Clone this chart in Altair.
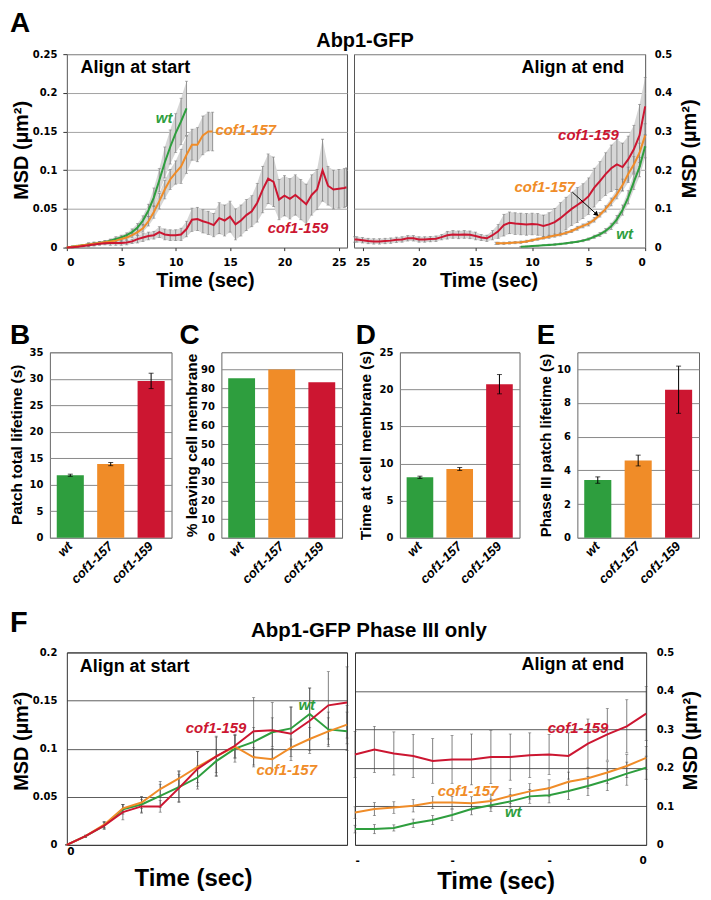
import altair as alt
import pandas as pd

# ---------------- Panel A: Abp1-GFP MSD (um^2), aligned at patch start ----------------
a_start_wt_t = [0, 0.5, 1, 1.5, 2, 2.5, 3, 3.5, 4, 4.5, 5, 5.5, 6, 6.5, 7, 7.5, 8, 8.5, 9, 9.5, 10, 10.5, 11]
a_start_wt_v = [0, 0.001, 0.002, 0.003, 0.004, 0.005, 0.006, 0.007, 0.009, 0.011, 0.013, 0.016, 0.020, 0.026,
                0.035, 0.048, 0.065, 0.087, 0.110, 0.130, 0.148, 0.163, 0.180]
a_start_wt_e = [0, 0.001, 0.001, 0.001, 0.002, 0.002, 0.002, 0.002, 0.002, 0.003, 0.003, 0.003, 0.004, 0.005,
                0.006, 0.008, 0.012, 0.015, 0.020, 0.022, 0.025, 0.030, 0.035]

a_start_157_t = [0, 0.5, 1, 1.5, 2, 2.5, 3, 3.5, 4, 4.5, 5, 5.5, 6, 6.5, 7, 7.5, 8, 8.5, 9, 9.5, 10, 10.5, 11,
                 11.5, 12, 12.5, 13, 13.4]
a_start_157_v = [0, 0.001, 0.002, 0.003, 0.004, 0.005, 0.006, 0.007, 0.008, 0.009, 0.011, 0.013, 0.016, 0.020,
                 0.025, 0.034, 0.046, 0.060, 0.075, 0.088, 0.097, 0.105, 0.120, 0.133, 0.133, 0.145, 0.150, 0.150]
a_start_157_e = [0, 0.001, 0.001, 0.001, 0.002, 0.002, 0.002, 0.002, 0.002, 0.003, 0.003, 0.003, 0.003, 0.004,
                 0.005, 0.006, 0.008, 0.010, 0.012, 0.013, 0.015, 0.022, 0.024, 0.020, 0.022, 0.025, 0.025, 0.025]

a_start_159_t = [0, 0.5, 1, 1.5, 2, 2.5, 3, 3.5, 4, 4.5, 5, 5.5, 6, 6.5, 7, 7.5, 8, 8.5, 9, 9.5, 10, 10.5, 11,
                 11.5, 12, 12.5, 13, 13.5, 14, 14.5, 15, 15.5, 16, 16.5, 17, 17.5, 18, 18.5, 19, 19.5, 20, 20.5,
                 21, 21.5, 22, 22.5, 23, 23.5, 24, 24.5, 25, 25.5, 25.7]
a_start_159_v = [0, 0.0005, 0.001, 0.002, 0.003, 0.004, 0.005, 0.0055, 0.006, 0.006,
                 0.006, 0.0065, 0.008, 0.011, 0.013, 0.015, 0.016, 0.020, 0.017, 0.016,
                 0.016, 0.017, 0.024, 0.036, 0.037, 0.034, 0.032, 0.029, 0.038, 0.035,
                 0.040, 0.030, 0.035, 0.042, 0.047, 0.058, 0.075, 0.089, 0.085, 0.062,
                 0.067, 0.063, 0.068, 0.062, 0.056, 0.068, 0.075, 0.100, 0.080, 0.075,
                 0.076, 0.077, 0.078]
a_start_159_e = [0, 0.001, 0.001, 0.001, 0.002, 0.002, 0.002, 0.002, 0.003, 0.003,
                 0.003, 0.003, 0.003, 0.005, 0.005, 0.005, 0.005, 0.007, 0.007, 0.007,
                 0.007, 0.008, 0.010, 0.015, 0.015, 0.015, 0.015, 0.015, 0.020, 0.020,
                 0.020, 0.020, 0.020, 0.020, 0.020, 0.025, 0.030, 0.032, 0.032, 0.026,
                 0.026, 0.026, 0.026, 0.026, 0.026, 0.026, 0.026, 0.040, 0.025, 0.025,
                 0.025, 0.025, 0.025]

# ---------------- Panel A: aligned at patch end (time before end, s) ----------------
a_end_wt_t = [11, 10.5, 10, 9.5, 9, 8.5, 8, 7.5, 7, 6.5, 6, 5.5, 5, 4.5, 4, 3.5, 3, 2.5, 2, 1.5, 1, 0.5, 0]
a_end_wt_v = [0.002, 0.003, 0.004, 0.005, 0.006, 0.007, 0.008, 0.0095, 0.011, 0.013, 0.015, 0.018, 0.022,
              0.028, 0.034, 0.043, 0.055, 0.073, 0.097, 0.130, 0.170, 0.208, 0.262]
a_end_wt_e = [0.001, 0.001, 0.001, 0.001, 0.001, 0.002, 0.002, 0.002, 0.002, 0.002, 0.002, 0.003, 0.003,
              0.004, 0.005, 0.006, 0.008, 0.010, 0.013, 0.017, 0.020, 0.025, 0.030]

a_end_157_t = [13.2, 13, 12.5, 12, 11.5, 11, 10.5, 10, 9.5, 9, 8.5, 8, 7.5, 7, 6.5, 6, 5.5, 5, 4.5, 4, 3.5,
               3, 2.5, 2, 1.5, 1, 0.5, 0]
a_end_157_v = [0.011, 0.011, 0.011, 0.012, 0.013, 0.014, 0.016, 0.019, 0.022, 0.025, 0.028, 0.031, 0.034,
               0.038, 0.043, 0.050, 0.056, 0.062, 0.072, 0.085, 0.100, 0.118, 0.138, 0.162, 0.190, 0.215,
               0.245, 0.290]
a_end_157_e = [0.003, 0.003, 0.003, 0.003, 0.003, 0.003, 0.003, 0.003, 0.003, 0.003, 0.004, 0.004, 0.004,
               0.004, 0.004, 0.005, 0.005, 0.006, 0.006, 0.006, 0.008, 0.010, 0.012, 0.015, 0.018, 0.020,
               0.025, 0.030]

a_end_159_t = [25.7, 25.5, 25, 24.5, 24, 23.5, 23, 22.5, 22, 21.5, 21, 20.5, 20, 19.5, 19, 18.5, 18, 17.5,
               17, 16.5, 16, 15.5, 15, 14.5, 14, 13.5, 13, 12.5, 12, 11.5, 11, 10.5, 10, 9.5, 9, 8.5, 8,
               7.5, 7, 6.5, 6, 5.5, 5, 4.5, 4, 3.5, 3, 2.5, 2, 1.5, 1, 0.5, 0]
a_end_159_v = [0.021, 0.021, 0.019, 0.017, 0.016, 0.016, 0.017, 0.018, 0.020, 0.021, 0.024, 0.024, 0.021,
               0.021, 0.022, 0.023, 0.027, 0.032, 0.034, 0.033, 0.034, 0.033, 0.030, 0.026, 0.024, 0.032,
               0.042, 0.058, 0.064, 0.062, 0.061, 0.060, 0.061, 0.060, 0.056, 0.060, 0.066, 0.076, 0.088,
               0.100, 0.110, 0.120, 0.133, 0.155, 0.172, 0.190, 0.205, 0.215, 0.208, 0.228, 0.254, 0.290,
               0.365]
a_end_159_e = [0.007, 0.007, 0.007, 0.007, 0.007, 0.007, 0.007, 0.007, 0.007, 0.007, 0.007, 0.007, 0.007,
               0.007, 0.007, 0.007, 0.007, 0.010, 0.010, 0.010, 0.010, 0.010, 0.010, 0.008, 0.008, 0.012,
               0.018, 0.028, 0.028, 0.028, 0.028, 0.028, 0.028, 0.028, 0.028, 0.030, 0.035, 0.040, 0.042,
               0.043, 0.045, 0.045, 0.047, 0.050, 0.050, 0.055, 0.060, 0.065, 0.062, 0.060, 0.062, 0.080,
               0.075]

# ---------------- Panels B-E: bar charts ----------------
strains = ["wt", "cof1-157", "cof1-159"]
b_lifetime = [11.8, 13.9, 29.6]
b_err = [0.2, 0.3, 1.45]
c_leaving = [85.3, 90.0, 83.2]
d_membrane = [8.15, 9.27, 20.7]
d_err = [0.15, 0.2, 1.3]
e_phase3 = [3.42, 4.58, 8.78]
e_err = [0.19, 0.32, 1.4]

# ---------------- Panel F: Phase III only (frame index) ----------------
f_start_i = [0, 1, 2, 3, 4, 5, 6, 7, 8, 9, 10, 11, 12, 13, 14, 15]
f_start_wt_v = [0, 0.009, 0.020, 0.037, 0.042, 0.051, 0.060, 0.070, 0.087, 0.100, 0.107, 0.117, 0.121, 0.136, 0.120, 0.118]
f_start_wt_e = [0, 0.001, 0.003, 0.005, 0.008, 0.012, 0.016, 0.012, 0.012, 0.014, 0.015, 0.015, 0.022, 0.027, 0.018, 0.020]
f_start_157_v = [0, 0.009, 0.021, 0.038, 0.044, 0.058, 0.069, 0.081, 0.092, 0.102, 0.091, 0.089, 0.101, 0.110, 0.118, 0.125]
f_start_157_e = [0, 0.001, 0.003, 0.004, 0.006, 0.008, 0.008, 0.016, 0.020, 0.012, 0.010, 0.011, 0.009, 0.012, 0.014, 0.020]
f_start_159_v = [0, 0.009, 0.020, 0.034, 0.040, 0.040, 0.059, 0.079, 0.092, 0.103, 0.118, 0.119, 0.1155, 0.129, 0.145, 0.148]
f_start_159_e = [0, 0.001, 0.004, 0.008, 0.007, 0.006, 0.014, 0.018, 0.021, 0.012, 0.035, 0.029, 0.028, 0.034, 0.035, 0.037]

f_end_i = [-15, -14, -13, -12, -11, -10, -9, -8, -7, -6, -5, -4, -3, -2, -1, 0]
f_end_159_v = [0.235, 0.248, 0.2375, 0.231, 0.218, 0.222, 0.222, 0.228, 0.228, 0.233, 0.235, 0.231, 0.263, 0.287, 0.308, 0.341]
f_end_159_e = [0.060, 0.060, 0.056, 0.056, 0.058, 0.062, 0.066, 0.069, 0.060, 0.058, 0.052, 0.060, 0.064, 0.067, 0.069, 0.070]
f_end_157_v = [0.084, 0.093, 0.097, 0.1015, 0.110, 0.110, 0.108, 0.114, 0.127, 0.139, 0.147, 0.164, 0.173, 0.188, 0.205, 0.226]
f_end_157_e = [0.015, 0.017, 0.015, 0.016, 0.016, 0.016, 0.017, 0.018, 0.019, 0.020, 0.022, 0.025, 0.027, 0.028, 0.030, 0.030]
f_end_wt_v = [0.041, 0.041, 0.044, 0.056, 0.0645, 0.0775, 0.093, 0.103, 0.113, 0.126, 0.129, 0.140, 0.153, 0.168, 0.185, 0.2005]
f_end_wt_e = [0.010, 0.012, 0.008, 0.011, 0.012, 0.014, 0.015, 0.016, 0.017, 0.018, 0.020, 0.022, 0.025, 0.027, 0.030, 0.030]

# ---------------- series-label annotations (data coordinates) ----------------
lab_a_start = (["wt", "cof1-157", "cof1-159"], [8.94, 16.44, 21.24], [0.161, 0.146, 0.0193])
lab_a_end = (["wt", "cof1-157", "cof1-159"], [1.82, 8.87, 5.02], [0.023, 0.144, 0.277])
arrow_a_end = ([6.43], [0.143], [4.29], [0.086])
lab_f_start = (["wt", "cof1-157", "cof1-159"], [12.84, 11.77, 7.99], [0.140, 0.0725, 0.116])
lab_f_end = (["wt", "cof1-157", "cof1-159"], [-6.85, -9.18, -3.51], [0.072, 0.128, 0.290])

# ---------------- styling ----------------
LF = "Liberation Sans"
TF = "DejaVu Sans"
LINE_COLORS = ["#2e9e3e", "#f08c28", "#cc1631"]
BAR_COLORS = ["#36aa40", "#f28b26", "#d0021f"]
cscale = alt.Scale(domain=strains, range=LINE_COLORS)


def to_long(parts):
    rows = []
    for name, ts, vs, es in parts:
        for t, v, e in zip(ts, vs, es):
            rows.append({"s": name, "t": t, "v": v, "lo": v - e, "hi": v + e})
    return pd.DataFrame(rows)


def note(text, x, y, size, align="left"):
    return alt.Chart(pd.DataFrame({"label": [text]})).mark_text(
        align=align, baseline="alphabetic", font=LF, fontWeight="bold", fontSize=size, color="black"
    ).encode(text="label:N", x=alt.value(x), y=alt.value(y))


def msd_panel(df, labs, xsc, ysc, xax, yax, w, h, frame, band, err_color, err_w, cap, line_w, extras):
    x = alt.X("t:Q", scale=xsc, axis=xax)
    layers = []
    base = alt.Chart(df)
    if band:
        layers.append(base.mark_area(color=band).encode(
            x=x, y=alt.Y("lo:Q", scale=ysc, axis=yax, stack=False), y2="hi:Q", detail="s:N"))
    layers.append(base.mark_rule(color=err_color, strokeWidth=err_w).encode(
        x=x, y=alt.Y("lo:Q", scale=ysc, axis=yax), y2="hi:Q"))
    for fld in ["lo", "hi"]:
        layers.append(base.mark_tick(orient="horizontal", size=cap, thickness=err_w, color=err_color).encode(
            x=x, y=alt.Y(fld + ":Q", scale=ysc, axis=yax)))
    layers.append(base.mark_line(strokeWidth=line_w).encode(
        x=x, y=alt.Y("v:Q", scale=ysc, axis=yax),
        color=alt.Color("s:N", scale=cscale, legend=None)))
    ldf = pd.DataFrame({"s": labs[0], "t": labs[1], "v": labs[2]})
    layers.append(alt.Chart(ldf).mark_text(
        align="center", baseline="alphabetic", font=LF, fontWeight="bold", fontStyle="italic", fontSize=15
    ).encode(x=x, y=alt.Y("v:Q", scale=ysc, axis=yax), text="s:N",
             color=alt.Color("s:N", scale=cscale, legend=None)))
    layers += extras
    return alt.layer(*layers).properties(
        width=w, height=h, view=alt.ViewBackground(stroke=frame, strokeWidth=1))


def time_axis(values, title_x, title_y, title_size, tick_size, pad, size, expr=None):
    kw = dict(values=values, grid=False, labelPadding=pad, labelFontSize=size, title="Time (sec)",
              titleX=title_x, titleY=title_y, titleAlign="center", titleBaseline="alphabetic",
              titleFontSize=title_size, format="~g")
    if tick_size > 0:
        kw.update(ticks=True, tickSize=tick_size, tickColor="#333333")
    else:
        kw.update(ticks=False)
    if expr:
        kw.update(labelExpr=expr)
    return alt.Axis(**kw)


def msd_axis(values, orient, grid_color, grid_w, title_x, title_y, tick_size, pad):
    kw = dict(values=values, orient=orient, grid=True, gridColor=grid_color, gridWidth=grid_w,
              labelPadding=pad, format="~g", title="MSD (µm²)", titleX=title_x,
              titleY=title_y, titleAngle=270, titleAlign="center", titleBaseline="alphabetic",
              titleFontSize=20)
    if tick_size > 0:
        kw.update(ticks=True, tickSize=tick_size, tickColor="#333333")
    else:
        kw.update(ticks=False)
    return alt.Axis(**kw)


# ---------- A left ----------
dfa1 = to_long([("wt", a_start_wt_t, a_start_wt_v, a_start_wt_e),
                ("cof1-157", a_start_157_t, a_start_157_v, a_start_157_e),
                ("cof1-159", a_start_159_t, a_start_159_v, a_start_159_e)])
xa1 = alt.Scale(domain=[0, 25.75], nice=False, zero=False)
ya1 = alt.Scale(domain=[0, 0.25], nice=False)
A_left = msd_panel(
    dfa1, lab_a_start, xa1, ya1,
    time_axis([0, 5, 10, 15, 20, 25], 138.5, 39.5, 20, 3, 7, 10.5),
    msd_axis([0, 0.05, 0.1, 0.15, 0.2, 0.25], "left", "#a3a3a3", 1, -39, 96, 4, 6),
    281, 194, "#555555", "#d6d6d6", "#7d7d7d", 0.8, 3, 2,
    [note("A", -57, -22.3, 28), note("Abp1-GFP", 299, -7.3, 20, "center"),
     note("Align at start", 13.7, 19.3, 18)])

# ---------- A right ----------
dfa2 = to_long([("wt", a_end_wt_t, a_end_wt_v, a_end_wt_e),
                ("cof1-157", a_end_157_t, a_end_157_v, a_end_157_e),
                ("cof1-159", a_end_159_t, a_end_159_v, a_end_159_e)])
xa2 = alt.Scale(domain=[0, 25.75], nice=False, zero=False, reverse=True)
ya2 = alt.Scale(domain=[0, 0.5], nice=False)
xax2 = time_axis([0, 5, 10, 15, 20, 25], 135, 39.5, 20, 3, 7, 10.5)
yax2 = msd_axis([0, 0.1, 0.2, 0.3, 0.4, 0.5], "right", "#a3a3a3", 1, 50.6, 94.5, 0, 9)
arr = pd.DataFrame({"t": arrow_a_end[0], "v": arrow_a_end[1], "t2": arrow_a_end[2], "v2": arrow_a_end[3]})
arrow_line = alt.Chart(arr).mark_rule(color="black", strokeWidth=1).encode(
    x=alt.X("t:Q", scale=xa2, axis=xax2), y=alt.Y("v:Q", scale=ya2, axis=yax2), x2="t2:Q", y2="v2:Q")
arrow_head = alt.Chart(arr).mark_point(shape="triangle-up", filled=True, size=30, angle=133,
                                       color="black", opacity=1).encode(
    x=alt.X("t2:Q", scale=xa2, axis=xax2), y=alt.Y("v2:Q", scale=ya2, axis=yax2))
A_right = msd_panel(
    dfa2, lab_a_end, xa2, ya2, xax2, yax2,
    292, 194, "#555555", "#d6d6d6", "#7d7d7d", 0.8, 3, 2,
    [arrow_line, arrow_head, note("Align at end", 271, 18.7, 18, "right")])


# ---------- bars ----------
def bar_panel(vals, errs, ydom, yvals, ytitle, tsize, tx, ty, letter, lx, w):
    xax = alt.Axis(labelAngle=315, labelAlign="right", labelBaseline="middle", labelPadding=6,
                   labelFont=LF, labelFontStyle="italic", labelFontSize=13, ticks=False, title=None)
    xe = alt.X("g:N", sort=strains, scale=alt.Scale(paddingInner=0.33, paddingOuter=0.17), axis=xax)
    ysc = alt.Scale(domain=ydom, nice=False)
    yax = alt.Axis(values=yvals, grid=True, gridColor="#8a8a8a", ticks=False, labelPadding=7,
                   title=ytitle, titleX=tx, titleY=ty, titleAngle=270, titleAlign="center",
                   titleBaseline="alphabetic", titleFontSize=tsize)
    df = pd.DataFrame({"g": strains, "val": vals})
    layers = [alt.Chart(df).mark_bar().encode(
        x=xe, y=alt.Y("val:Q", scale=ysc, axis=yax),
        color=alt.Color("g:N", scale=alt.Scale(domain=strains, range=BAR_COLORS), legend=None))]
    if errs:
        df["lo"] = [v - e for v, e in zip(vals, errs)]
        df["hi"] = [v + e for v, e in zip(vals, errs)]
        eb = alt.Chart(df)
        layers.append(eb.mark_rule(color="black", strokeWidth=1).encode(
            x=xe, y=alt.Y("lo:Q", scale=ysc, axis=yax), y2="hi:Q"))
        for fld in ["lo", "hi"]:
            layers.append(eb.mark_tick(orient="horizontal", size=5, thickness=1, color="black").encode(
                x=xe, y=alt.Y(fld + ":Q", scale=ysc, axis=yax)))
    layers.append(note(letter, lx, -8, 28))
    return alt.layer(*layers).properties(
        width=w, height=186, view=alt.ViewBackground(stroke="#666666", strokeWidth=1))


B = bar_panel(b_lifetime, b_err, [0, 35], [0, 5, 10, 15, 20, 25, 30, 35],
              "Patch total lifetime (s)", 15.5, -28.3, 92.3, "B", -40, 122)
C = bar_panel(c_leaving, None, [0, 99.2], [0, 10, 20, 30, 40, 50, 60, 70, 80, 90],
              "% leaving cell membrane", 15.5, -25.3, 93, "C", -42, 121)
D = bar_panel(d_membrane, d_err, [0, 25], [0, 5, 10, 15, 20, 25],
              "Time at cell membrane (s)", 15.5, -29.3, 93, "D", -44.3, 120)
E = bar_panel(e_phase3, e_err, [0, 11], [0, 2, 4, 6, 8, 10],
              "Phase III patch lifetime  (s)", 15, -27.3, 93, "E", -40.7, 122)

# ---------- F left ----------
dff1 = to_long([("wt", f_start_i, f_start_wt_v, f_start_wt_e),
                ("cof1-157", f_start_i, f_start_157_v, f_start_157_e),
                ("cof1-159", f_start_i, f_start_159_v, f_start_159_e)])
xf1 = alt.Scale(domain=[0, 15], nice=False, zero=False)
yf1 = alt.Scale(domain=[0, 0.2], nice=False)
F_left = msd_panel(
    dff1, lab_f_start, xf1, yf1,
    time_axis([0], 126.5, 41, 24, 0, 2, 10.5),
    msd_axis([0, 0.05, 0.1, 0.15, 0.2], "left", "#333333", 0.8, -39.4, 88.7, 0, 10),
    281, 193, "#333333", None, "#4a4a4a", 0.7, 3, 2,
    [note("F", -57, -20.6, 29), note("Abp1-GFP Phase III only", 303, -15, 20.5, "center"),
     note("Align at start", 13, 20, 18)])

# ---------- F right ----------
dff2 = to_long([("wt", f_end_i, f_end_wt_v, f_end_wt_e),
                ("cof1-157", f_end_i, f_end_157_v, f_end_157_e),
                ("cof1-159", f_end_i, f_end_159_v, f_end_159_e)])
xf2 = alt.Scale(domain=[-15, 0], nice=False, zero=False)
yf2 = alt.Scale(domain=[0, 0.5], nice=False)
F_right = msd_panel(
    dff2, lab_f_end, xf2, yf2,
    time_axis([-15, -10, -5, 0], 141, 43.5, 24, 0, 11, 10.5, "datum.value == 0 ? '0' : '-'"),
    msd_axis([0, 0.1, 0.2, 0.3, 0.4, 0.5], "right", "#333333", 0.8, 50, 88, 0, 10),
    292, 193, "#333333", None, "#4a4a4a", 0.7, 3, 2,
    [note("Align at end", 270, 17.7, 18, "right")])


def spacer(w):
    return alt.Chart(pd.DataFrame({"z": [0]})).mark_point(opacity=0).encode(
        x=alt.X("z:Q", axis=None), y=alt.Y("z:Q", axis=None)).properties(width=w, height=1)


row1 = alt.hconcat(spacer(17), A_left, spacer(7), A_right, spacing=0, bounds="flush")
row2 = alt.hconcat(B, spacer(50), C, spacer(58), D, spacer(58), E, spacing=0, bounds="flush")
row3 = alt.hconcat(spacer(17), F_left, spacer(8), F_right, spacing=0, bounds="flush")

chart = alt.vconcat(row1, alt.vconcat(row2, row3, spacing=21), spacing=30).properties(
    padding={"left": 1, "top": 0, "right": 2, "bottom": 2}, background="white"
).configure_view(strokeWidth=0).configure_axis(
    labelFont=TF, labelFontWeight="bold", labelFontSize=10, labelColor="black",
    titleFont=LF, titleFontWeight="bold", titleColor="black", domain=False
)

chart.save("out.html", embed_options={"renderer": "svg", "actions": False})
